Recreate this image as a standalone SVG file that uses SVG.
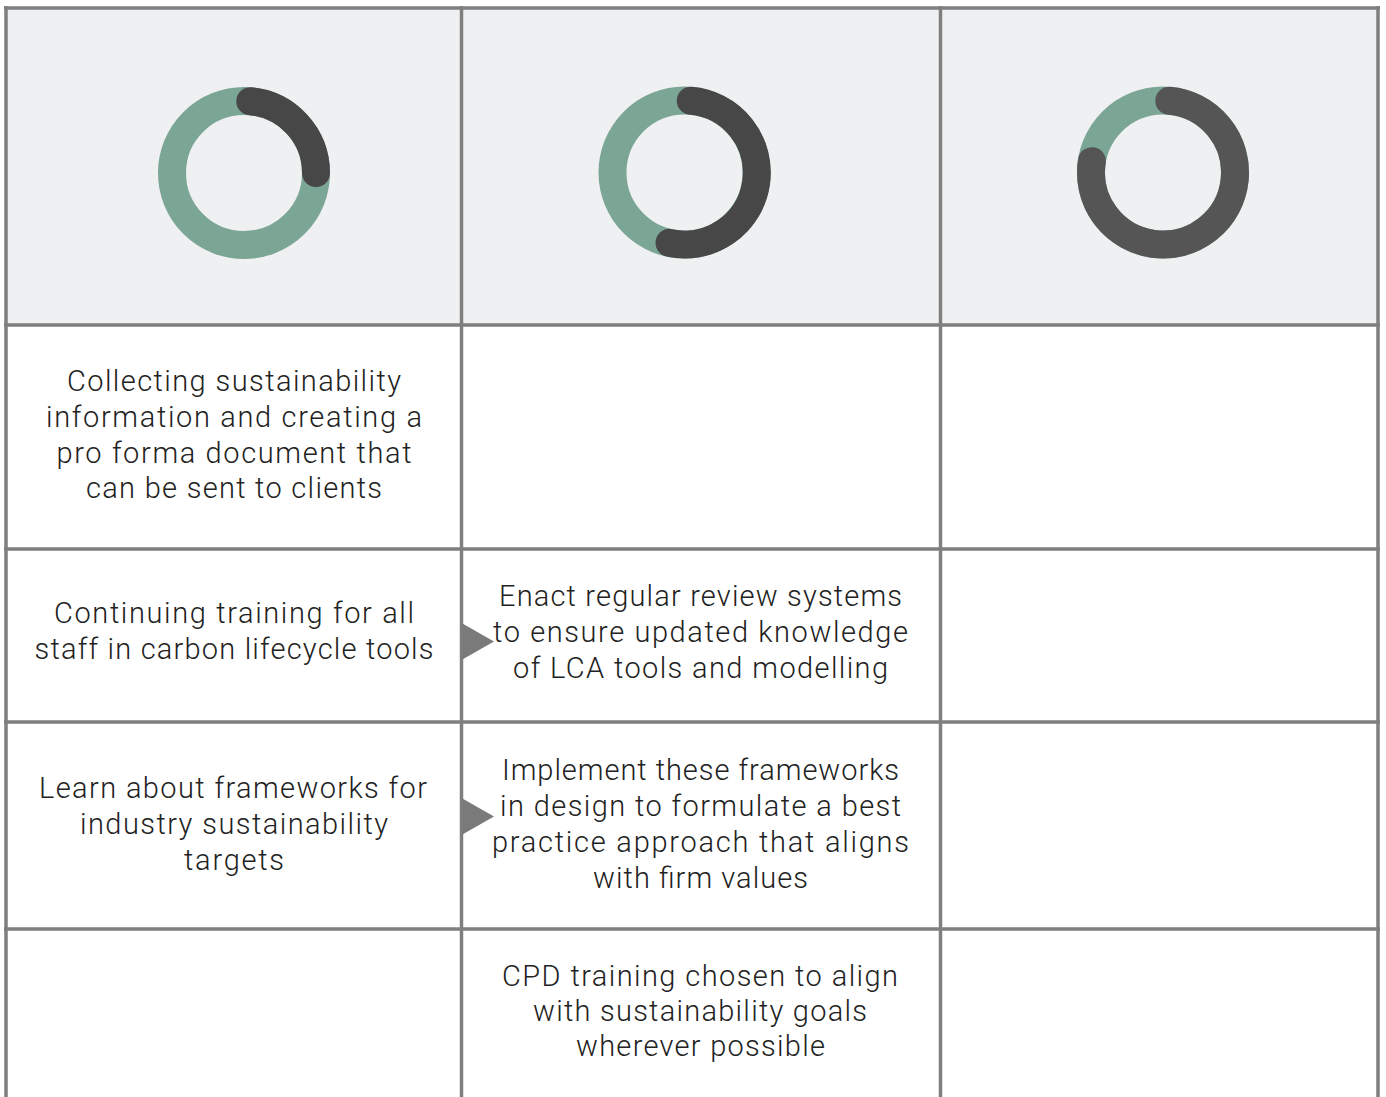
<svg xmlns="http://www.w3.org/2000/svg" width="1386" height="1097" viewBox="0 0 1386 1097">
<style>
.hdr{fill:#eff0f2}
.grid{stroke:#7f7f7f;stroke-width:3.5;fill:none}
.ring{fill:none;stroke:#7ba594;stroke-width:28}
.arc{fill:none;stroke:#474747;stroke-width:28;stroke-linecap:round}
.arc3{stroke:#555555}
.t{font-family:Roboto,"Open Sans","Liberation Sans",sans-serif;font-weight:300;font-size:29px;fill:#222222;text-anchor:middle}
.arrow{fill:#7a7a7a}
</style>
<rect x="0" y="0" width="1386" height="1097" fill="#ffffff"/>
<rect class="hdr" x="6" y="8" width="1372" height="317"/>

<g id="header-col1">
<circle class="ring" cx="244" cy="173" r="72"/>
<path class="arc" d="M250.3,101.3 A72,72 0 0 1 316,173"/>
</g>
<g id="header-col2">
<circle class="ring" cx="684.5" cy="172.5" r="72"/>
<path class="arc" d="M690.8,100.8 A72,72 0 1 1 669.5,242.9"/>
</g>
<g id="header-col3">
<circle class="ring" cx="1163" cy="172.5" r="72"/>
<path class="arc arc3" d="M1169.3,100.8 A72,72 0 1 1 1091.9,161.2"/>
</g>

<g id="grid">
<path class="grid" d="M4,8H1380 M4,325H1380 M4,549H1380 M4,722H1380 M4,929H1380 M6,6V1097 M461.5,6V1097 M940.5,6V1097 M1378,6V1097"/>
</g>

<g id="cell-r1c1">
<text class="t" x="234" y="391" textLength="334">Collecting sustainability</text>
<text class="t" x="234" y="427" textLength="376">information and creating a</text>
<text class="t" x="234" y="463" textLength="355">pro forma document that</text>
<text class="t" x="234" y="498" textLength="296">can be sent to clients</text>
</g>
<g id="cell-r2c1">
<text class="t" x="234" y="623" textLength="360">Continuing training for all</text>
<text class="t" x="234" y="659" textLength="399">staff in carbon lifecycle tools</text>
</g>
<g id="cell-r2c2">
<text class="t" x="700.5" y="606" textLength="403">Enact regular review systems</text>
<text class="t" x="700.5" y="642" textLength="415">to ensure updated knowledge</text>
<text class="t" x="700.5" y="678" textLength="375">of LCA tools and modelling</text>
</g>
<g id="cell-r3c1">
<text class="t" x="233" y="798" textLength="388">Learn about frameworks for</text>
<text class="t" x="234" y="834" textLength="308">industry sustainability</text>
<text class="t" x="234" y="870" textLength="100">targets</text>
</g>
<g id="cell-r3c2">
<text class="t" x="700.5" y="780" textLength="397">Implement these frameworks</text>
<text class="t" x="700.5" y="816" textLength="401">in design to formulate a best</text>
<text class="t" x="700.5" y="852" textLength="417">practice approach that aligns</text>
<text class="t" x="700.5" y="888" textLength="215">with firm values</text>
</g>
<g id="cell-r4c2">
<text class="t" x="700" y="986" textLength="396">CPD training chosen to align</text>
<text class="t" x="700" y="1021" textLength="334">with sustainability goals</text>
<text class="t" x="700.5" y="1056" textLength="249">wherever possible</text>
</g>

<g id="connectors">
<polygon class="arrow" points="461.5,623 494,641.5 461.5,660"/>
<polygon class="arrow" points="461.5,798 494,816.5 461.5,835"/>
</g>
</svg>
